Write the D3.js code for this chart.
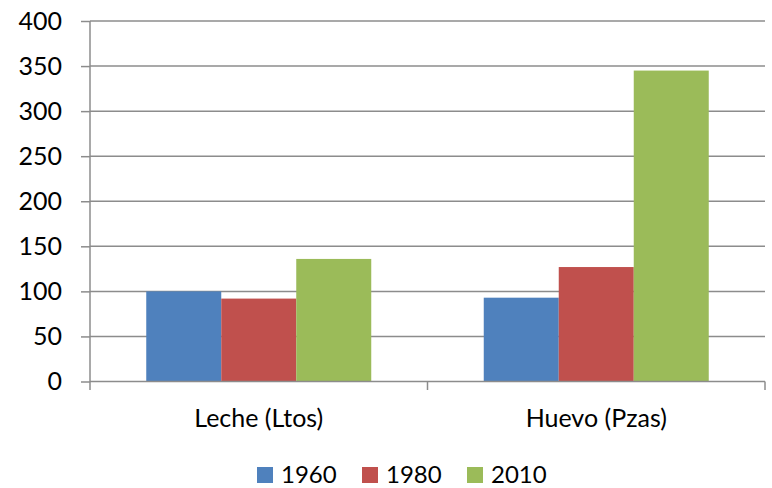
<!DOCTYPE html>
<html>
<head>
<meta charset="utf-8">
<script src="https://cdn.jsdelivr.net/npm/d3@7"></script>
<style>
  body { margin: 0; background: #fff; }
  svg, svg text { font-family: Lato, "Open Sans", sans-serif; }
</style>
</head>
<body>
<div id="chart"></div>
<script>
// data
const categories = ["Leche (Ltos)", "Huevo (Pzas)"];
const series = ["1960", "1980", "2010"];
const values1960 = [100, 93];
const values1980 = [92, 127];
const values2010 = [136, 345];
const yTicks = [0, 50, 100, 150, 200, 250, 300, 350, 400];
const colors = ["#4F81BD", "#C0504D", "#9BBB59"];

const allValues = [values1960, values1980, values2010];

var width = 772, height = 488;
var margin = {top: 21, right: 7, bottom: 106.5, left: 90};
var plotW = width - margin.left - margin.right;
var plotH = height - margin.top - margin.bottom;
var gridColor = "#8c8c8c";

var svg = d3.select("#chart").append("svg")
  .attr("width", width)
  .attr("height", height);

var g = svg.append("g")
  .attr("transform", "translate(" + margin.left + "," + margin.top + ")");

var y = d3.scaleLinear().domain([0, 400]).range([plotH, 0]);
var x0 = d3.scaleBand().domain(categories).range([0, plotW]);
var bw = x0.bandwidth();
var barW = bw / 4.5;   // gap width 150%
var x1 = d3.scaleBand().domain(series).range([barW * 0.75, bw - barW * 0.75]);

// gridlines
g.selectAll(".grid")
  .data(yTicks.slice(1))
  .enter().append("line")
  .attr("x1", 0).attr("x2", plotW)
  .attr("y1", d => y(d)).attr("y2", d => y(d))
  .attr("stroke", gridColor)
  .attr("stroke-width", 1.5);

// bars
series.forEach(function(s, i) {
  g.selectAll(".bar" + i)
    .data(categories)
    .enter().append("rect")
    .attr("x", c => x0(c) + x1(s))
    .attr("width", x1.bandwidth())
    .attr("y", (c, j) => y(allValues[i][j]))
    .attr("height", (c, j) => plotH - y(allValues[i][j]))
    .attr("fill", colors[i]);
});

// y axis
var yAxis = g.append("g")
  .call(d3.axisLeft(y).tickValues(yTicks).tickSize(9).tickPadding(19));
yAxis.attr("font-family", null).attr("font-size", null);
yAxis.select(".domain").attr("d", "M0,0V" + (plotH + 8.5));
yAxis.selectAll("line").attr("stroke", gridColor).attr("stroke-width", 1.5);
yAxis.select(".domain").attr("stroke", gridColor).attr("stroke-width", 1.5);
yAxis.selectAll("text")
  .style("font-size", "25px")
  .attr("fill", "#000");

// x axis
var xAxis = g.append("g")
  .attr("transform", "translate(0," + plotH + ")");
xAxis.append("line")
  .attr("x1", 0).attr("x2", plotW)
  .attr("stroke", gridColor).attr("stroke-width", 1.5);
xAxis.selectAll(".xtick")
  .data(categories)
  .enter().append("line")
  .attr("x1", c => x0(c) + bw).attr("x2", c => x0(c) + bw)
  .attr("y1", 0).attr("y2", 8.5)
  .attr("stroke", gridColor).attr("stroke-width", 1.5);
xAxis.selectAll(".xlabel")
  .data(categories)
  .enter().append("text")
  .attr("x", c => x0(c) + bw / 2)
  .attr("y", 45.5)
  .attr("text-anchor", "middle")
  .style("font-size", "25px")
  .text(c => c);

// legend
var legend = svg.append("g").attr("transform", "translate(257,467)");
series.forEach(function(s, i) {
  var item = legend.append("g").attr("transform", "translate(" + (i * 105) + ",0)");
  item.append("rect").attr("width", 16).attr("height", 16).attr("fill", colors[i]);
  item.append("text")
    .attr("x", 24).attr("y", 16)
    .style("font-size", "24px")
    .text(s);
});
</script>
</body>
</html>
